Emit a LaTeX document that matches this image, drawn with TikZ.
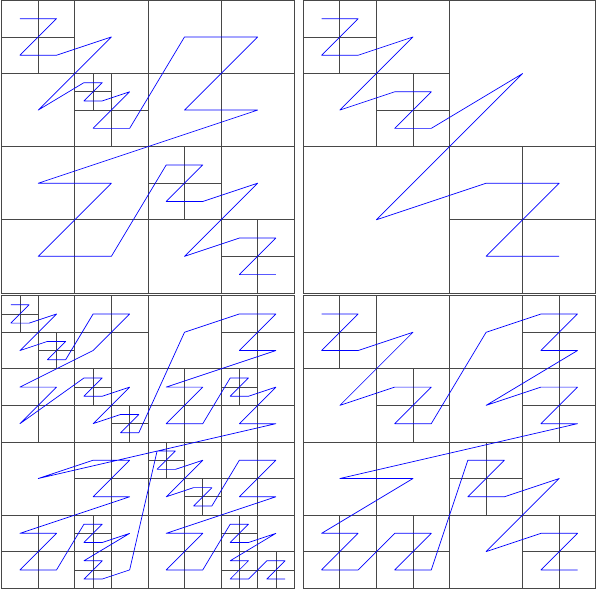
\documentclass[tikz,border=0pt]{standalone}
\tikzset{
  gridline/.style={draw=black!72, line width=0.75pt},
  zcurve/.style={draw=blue, line width=0.7pt, line join=round},
  panel/.style={x=9.14pt, y=-9.14pt},
}
\newcommand\qcross[3]{\draw[gridline] ({#1+#3/2},#2) -- ({#1+#3/2},{#2+#3}) (#1,{#2+#3/2}) -- ({#1+#3},{#2+#3/2});}
\newcommand\qbox{\draw[gridline] (0,0) rectangle (32,32);}
\begin{document}
\begin{tikzpicture}[x=1pt,y=-1pt]
\useasboundingbox (0,0) rectangle (598,590);
\fill[white] (0,0) rectangle (598,590);
% panel 1
\begin{scope}[xshift=1.7pt, yshift=-0.4pt, panel]
  \qbox
  \foreach \a/\b/\s in {0/0/32, 0/0/16, 16/0/16, 0/16/16, 16/16/16, 0/0/8, 8/8/8, 16/16/8, 24/24/8, 8/8/4}
    {\qcross{\a}{\b}{\s}}
  \draw[zcurve] (2,2)--(6,2)--(2,6)--(6,6)--(12,4)--(4,12)--(9,9)--(11,9)--(9,11)--(11,11)--(14,10)--(10,14)--(14,14)--(20,4)--(28,4)--(20,12)--(28,12)--(4,20)--(12,20)--(4,28)--(12,28)--(18,18)--(22,18)--(18,22)--(22,22)--(28,20)--(20,28)--(26,26)--(30,26)--(26,30)--(30,30);
\end{scope}
% panel 2
\begin{scope}[xshift=303.3pt, yshift=-0.4pt, panel]
  \qbox
  \foreach \a/\b/\s in {0/0/32, 0/0/16, 16/16/16, 0/0/8, 8/8/8}
    {\qcross{\a}{\b}{\s}}
  \draw[zcurve] (2,2)--(6,2)--(2,6)--(6,6)--(12,4)--(4,12)--(10,10)--(14,10)--(10,14)--(14,14)--(24,8)--(8,24)--(20,20)--(28,20)--(20,28)--(28,28);
\end{scope}
% panel 3
\begin{scope}[xshift=1.7pt, yshift=-295.7pt, panel]
  \qbox
  \foreach \a/\b/\s in {0/0/32, 0/0/16, 16/0/16, 0/16/16, 16/16/16,
     0/0/8, 8/0/8, 0/8/8, 8/8/8, 24/0/8, 16/8/8, 24/8/8, 8/16/8, 0/24/8, 8/24/8, 16/16/8, 24/16/8, 16/24/8, 24/24/8,
     0/0/4, 4/4/4, 8/8/4, 12/12/4, 24/8/4, 8/24/4, 8/28/4, 16/16/4, 20/20/4, 24/24/4, 24/28/4, 28/28/4}
    {\qcross{\a}{\b}{\s}}
  \draw[zcurve] (1,1)--(3,1)--(1,3)--(3,3)--(6,2)--(2,6)--(5,5)--(7,5)--(5,7)--(7,7)
    --(10,2)--(14,2)--(10,6)
    --(2,10)--(6,10)--(2,14)
    --(9,9)--(11,9)--(9,11)--(11,11)--(14,10)--(10,14)--(13,13)--(15,13)--(13,15)--(15,15)
    --(20,4)
    --(26,2)--(30,2)--(26,6)--(30,6)
    --(18,10)--(22,10)--(18,14)--(22,14)
    --(25,9)--(27,9)--(25,11)--(27,11)--(30,10)--(26,14)--(30,14)
    --(4,20)
    --(10,18)--(14,18)--(10,22)--(14,22)
    --(2,26)--(6,26)--(2,30)--(6,30)
    --(9,25)--(11,25)--(9,27)--(11,27)--(14,26)--(9,29)--(11,29)--(9,31)--(11,31)--(14,30)
    --(17,17)--(19,17)--(17,19)--(19,19)--(22,18)--(18,22)--(21,21)--(23,21)--(21,23)--(23,23)
    --(26,18)--(30,18)--(26,22)--(30,22)
    --(18,26)--(22,26)--(18,30)--(22,30)
    --(25,25)--(27,25)--(25,27)--(27,27)--(30,26)--(25,29)--(27,29)--(25,31)--(27,31)--(29,29)--(31,29)--(29,31)--(31,31);
\end{scope}
% panel 4
\begin{scope}[xshift=303.3pt, yshift=-295.7pt, panel]
  \qbox
  \foreach \a/\b/\s in {0/0/32, 0/0/16, 16/0/16, 0/16/16, 16/16/16,
     0/0/8, 8/8/8, 24/0/8, 24/8/8, 0/24/8, 8/24/8, 16/16/8, 24/24/8}
    {\qcross{\a}{\b}{\s}}
  \draw[zcurve] (2,2)--(6,2)--(2,6)--(6,6)--(12,4)--(4,12)--(10,10)--(14,10)--(10,14)--(14,14)
    --(20,4)--(26,2)--(30,2)--(26,6)--(30,6)--(20,12)--(26,10)--(30,10)--(26,14)--(30,14)
    --(4,20)--(12,20)--(2,26)--(6,26)--(2,30)--(6,30)--(10,26)--(14,26)--(10,30)--(14,30)
    --(18,18)--(22,18)--(18,22)--(22,22)--(28,20)--(20,28)--(26,26)--(30,26)--(26,30)--(30,30);
\end{scope}
\end{tikzpicture}
\end{document}
